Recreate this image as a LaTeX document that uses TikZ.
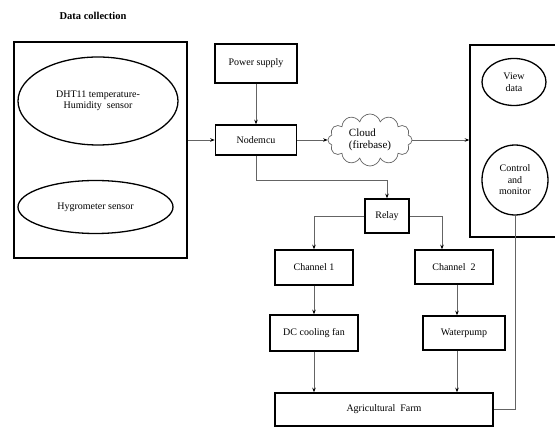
\documentclass[tikz,border=0pt]{standalone}
\usepackage{fontspec}
\setmainfont{Liberation Serif}
\usepackage{tikz}
\usetikzlibrary{arrows,arrows.meta,shapes,positioning}
\usepackage{xcolor}
\definecolor{lnkgray}{RGB}{100,100,100}
\tikzstyle{arrow} = [-{Stealth[black,length=4.5pt,width=3.5pt]},line width=0.7pt,color=lnkgray]
\tikzstyle{link} = [line width=0.7pt,color=lnkgray]
\tikzstyle{unit} = [rectangle, draw=black, line width=1.5pt, inner sep=1pt, text centered, font=\fontsize{10}{11.5}\selectfont]
\tikzstyle{sensor} = [ellipse, draw=black, line width=1.3pt, inner sep=0pt, align=center, font=\fontsize{10}{11.5}\selectfont]

\begin{document}
\begin{tikzpicture}[x=1pt, y=1pt]
\useasboundingbox (0,0) rectangle (555,428);
% Title
\node (title) at (93,412) {\fontsize{10.5}{12}\selectfont\textbf{Data collection}};

% Data collection block
\node (dcbox) [unit, minimum width=173pt, minimum height=216pt] at (100.5,278) {};
\node (dht) [sensor, minimum width=160pt, minimum height=88pt] at (98,327) {DHT11 temperature-\\Humidity\ \ sensor};
\node (hygro) [sensor, minimum width=155pt, minimum height=53pt] at (95.5,221) {Hygrometer sensor};

% Controller
\node (power) [unit, minimum width=82pt, minimum height=39pt] at (256,364.5) {Power supply};
\node (nodemcu) [unit, below of=power, node distance=76.5pt, minimum width=81pt, minimum height=30pt] {Nodemcu};
\node (cloud) [cloud, draw=lnkgray, line width=0.7pt, cloud puffs=12, aspect=1.7, inner sep=0pt, minimum width=84pt, minimum height=52pt, align=left, font=\fontsize{11}{11.5}\selectfont] at (370,288) {Cloud\\(firebase)};

% Application block
\node (app) [unit, minimum width=100pt, minimum height=192pt] at (520,287) {};
\node (view) [sensor, minimum width=64pt, minimum height=47pt] at (514,346) {View\\data};
\node (ctrl) [sensor, minimum width=66pt, minimum height=70pt] at (515,248) {Control\\and\\monitor};

% Actuators
\node (relay) [unit, minimum width=44pt, minimum height=34pt] at (387,212) {Relay};
\node (ch1) [unit, minimum width=78pt, minimum height=35pt] at (314,160.5) {Channel 1};
\node (ch2) [unit, minimum width=78pt, minimum height=34pt] at (454,161) {Channel\ \ 2};
\node (fan) [unit, below of=ch1, node distance=65.5pt, minimum width=88pt, minimum height=36pt] {DC cooling fan};
\node (pump) [unit, minimum width=82pt, minimum height=34pt] at (464,95) {Waterpump};
\node (farm) [unit, minimum width=218pt, minimum height=33pt] at (384,18.5) {Agricultural\ \ Farm};

% Arrows
\draw[arrow] (dcbox.east |- nodemcu.west) -- (nodemcu.west);
\draw[arrow] (power) -- (nodemcu);
\draw[arrow] (nodemcu) -- (cloud);
\draw[arrow] (cloud.east) -- (cloud.east -| app.west);
\draw[arrow] (nodemcu.south) -- ++(0,-25) -| (relay.north);
\draw[arrow] (relay.west) -| (ch1.north);
\draw[arrow] (relay.east) -| ([xshift=-12pt]ch2.north);
\draw[arrow] (ch1) -- (fan);
\draw[arrow] ([xshift=3pt]ch2.south) -- ([xshift=3pt]ch2.south |- pump.north);
\draw[arrow] (fan.south) -- (fan.south |- farm.north);
\draw[arrow] ([xshift=-7pt]pump.south) -- ([xshift=-7pt]pump.south |- farm.north);
\draw[link] (ctrl.south) |- (farm.east);
\end{tikzpicture}
\end{document}
